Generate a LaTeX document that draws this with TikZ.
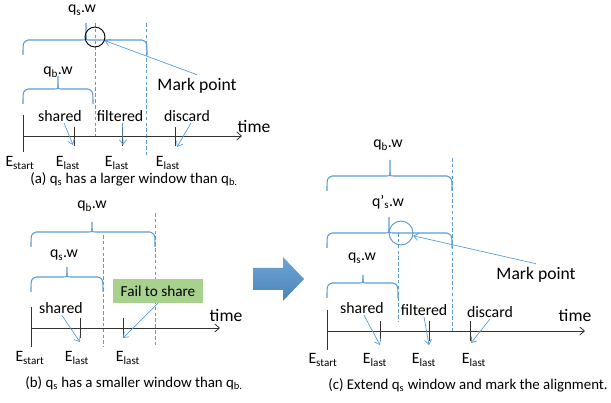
\documentclass[tikz,border=0pt]{standalone}
\usepackage{fontspec}
\setmainfont{Carlito}
\usetikzlibrary{arrows.meta}

\definecolor{winblue}{RGB}{91,155,213}
\definecolor{failgreen}{RGB}{169,209,142}

% curly window brace: x1, x2, tip x, line y, tip y
\newcommand{\winbrace}[5]{%
  \draw[winline] (#1,#4+15) .. controls (#1,#4+2) .. (#1+5,#4) -- (#3-4,#4)
    .. controls (#3,#4) .. (#3,#4-4) -- (#3,#5);
  \draw[winline] (#3,#4-4) .. controls (#3,#4) .. (#3+4,#4) -- (#2-5,#4)
    .. controls (#2,#4+2) .. (#2,#4+15);
}

\tikzset{
  winline/.style={draw=winblue, line width=0.9pt},
  guide/.style={draw=winblue, line width=0.7pt, dash pattern=on 3pt off 2pt},
  timeaxis/.style={-{Straight Barb[length=4pt,width=7pt]}, line width=0.7pt, draw=black!80},
  tickmark/.style={line width=0.7pt, draw=black!80},
  ptr/.style={-{Straight Barb[length=4pt,width=6pt]}, draw=winblue, line width=0.6pt},
  lbl/.style={inner sep=1pt, font=\fontsize{13.5}{15}\selectfont},
  biglbl/.style={inner sep=1pt, font=\fontsize{15}{17}\selectfont},
  caption/.style={inner sep=0pt, font=\fontsize{12.7}{15}\selectfont},
  markring/.style={draw, circle, inner sep=0pt, line width=0.8pt},
}

\begin{document}
\begin{tikzpicture}[x=0.03cm, y=-0.03cm, line join=round]

\useasboundingbox (0,0) rectangle (611,403);

%%% (a) q_s has the larger window
\node[lbl] (a-qs) at (82,10) {q\textsubscript{s}.w};
\winbrace{23}{147}{86}{40}{23}
\node[lbl] (a-qb) at (58,72) {q\textsubscript{b}.w};
\winbrace{23}{93}{58}{89}{76}

\draw[guide] (95,23) -- (95,137);
\draw[guide] (146,23) -- (146,157);

\node[markring, minimum size=17pt] (a-mark) at (95,37) {};
\node[biglbl] (a-marktxt) at (197,86) {Mark point};
\draw[ptr] ([yshift=2pt]a-marktxt.north) -- (a-mark);

\coordinate (a-o) at (23,136);
\coordinate (a-end) at (242,136);
\draw[timeaxis] (a-o) -- (a-end);
\node[biglbl] (a-time) at (254,126) {time};

\draw[tickmark] (23,115) -- (23,152);
\draw[tickmark] (74,127) -- (74,146);
\draw[tickmark] (122,127) -- (122,146);
\draw[tickmark] (175,127) -- (175,146);

\node[lbl] (a-shared) at (60,116) {shared};
\node[lbl] (a-filtered) at (120,116) {filtered};
\node[lbl] (a-discard) at (187,116) {discard};
\coordinate (a-p1) at (73,145);
\coordinate (a-p2) at (123,145);
\coordinate (a-p3) at (177,147);
\draw[ptr] (a-shared.-60) -- (a-p1);
\draw[ptr] (a-filtered.-70) -- (a-p2);
\draw[ptr] (a-discard.-60) -- (a-p3);

\node[lbl] (a-e0) at (20,163) {E\textsubscript{start}};
\node[lbl] (a-e1) at (68,163) {E\textsubscript{last}};
\node[lbl] (a-e2) at (117,163) {E\textsubscript{last}};
\node[lbl] (a-e3) at (168,163) {E\textsubscript{last}};

\node[caption] (a-cap) at (134,179) {(a) q\textsubscript{s} has a larger window than q\textsubscript{b.}};

%%% (b) q_s has the smaller window
\node[lbl] (b-qb) at (92,206) {q\textsubscript{b}.w};
\winbrace{31}{155}{92}{232}{222}
\node[lbl] (b-qs) at (64,255) {q\textsubscript{s}.w};
\winbrace{31}{103}{67}{277}{267}

\draw[guide] (103,235) -- (103,347);
\draw[guide] (155,213) -- (155,347);

\node[lbl, fill=failgreen, minimum width=90*0.85pt, minimum height=24*0.85pt,
  font=\fontsize{13}{15}\selectfont] (b-fail) at (158,291) {Fail to share};

\coordinate (b-o) at (31,328);
\coordinate (b-end) at (220,328);
\draw[timeaxis] (b-o) -- (b-end);
\node[biglbl] (b-time) at (226,315) {time};

\draw[tickmark] (31,307) -- (31,347);
\draw[tickmark] (80,318) -- (80,338);
\draw[tickmark] (123,318) -- (123,338);

\node[lbl] (b-shared) at (61,308) {shared};
\coordinate (b-p1) at (80,342);
\coordinate (b-p2) at (123,338);
\draw[ptr] (b-shared.-85) -- (b-p1);
\draw[ptr] (b-fail.south) -- (b-p2);

\node[lbl] (b-e0) at (30,358) {E\textsubscript{start}};
\node[lbl] (b-e1) at (77,358) {E\textsubscript{last}};
\node[lbl] (b-e2) at (128,358) {E\textsubscript{last}};

\node[caption] (b-cap) at (134,383) {(b) q\textsubscript{s} has a smaller window than q\textsubscript{b.}};

%%% big arrow between the panels
\shade[top color=winblue!90!white, bottom color=winblue!85!black]
  (253,268) -- (283,268) -- (283,257) -- (304,279) -- (283,301) -- (283,290) -- (253,290) -- cycle;

%%% (c) extend q_s and mark the alignment
\node[lbl] (c-qb) at (388,145) {q\textsubscript{b}.w};
\winbrace{327}{452}{390}{176}{160}
\node[lbl] (c-qs2) at (388,202) {q'\textsubscript{s}.w};
\winbrace{327}{452}{389}{233}{217}
\node[lbl] (c-qs) at (362,258) {q\textsubscript{s}.w};
\winbrace{327}{398}{363}{283}{275}

\draw[guide] (452,158) -- (452,332);
\draw[guide] (398,233) -- (398,322);

\node[markring, draw=winblue, minimum size=20.4pt] (c-mark) at (401,233) {};
\node[biglbl] (c-marktxt) at (536,275) {Mark point};
\draw[ptr] ([yshift=2pt]c-marktxt.north) -- (c-mark);

\coordinate (c-o) at (327,331);
\coordinate (c-end) at (585,331);
\draw[timeaxis] (c-o) -- (c-end);
\node[biglbl] (c-time) at (575,315) {time};

\draw[tickmark] (327,310) -- (327,350);
\draw[tickmark] (380,321) -- (380,341);
\draw[tickmark] (429,321) -- (429,341);
\draw[tickmark] (470,321) -- (470,341);

\node[lbl] (c-shared) at (362,308) {shared};
\node[lbl] (c-filtered) at (424,310) {filtered};
\node[lbl] (c-discard) at (490,312) {discard};
\coordinate (c-p1) at (380,345);
\coordinate (c-p2) at (429,345);
\coordinate (c-p3) at (471,343);
\draw[ptr] (c-shared.-75) -- (c-p1);
\draw[ptr] (c-filtered.-90) -- (c-p2);
\draw[ptr] (c-discard.-90) -- (c-p3);

\node[lbl] (c-e0) at (323,360) {E\textsubscript{start}};
\node[lbl] (c-e1) at (375,360) {E\textsubscript{last}};
\node[lbl] (c-e2) at (424,360) {E\textsubscript{last}};
\node[lbl] (c-e3) at (474,360) {E\textsubscript{last}};

\node[caption] (c-cap) at (468,385) {(c) Extend q\textsubscript{s} window and mark the alignment.};

\end{tikzpicture}
\end{document}
